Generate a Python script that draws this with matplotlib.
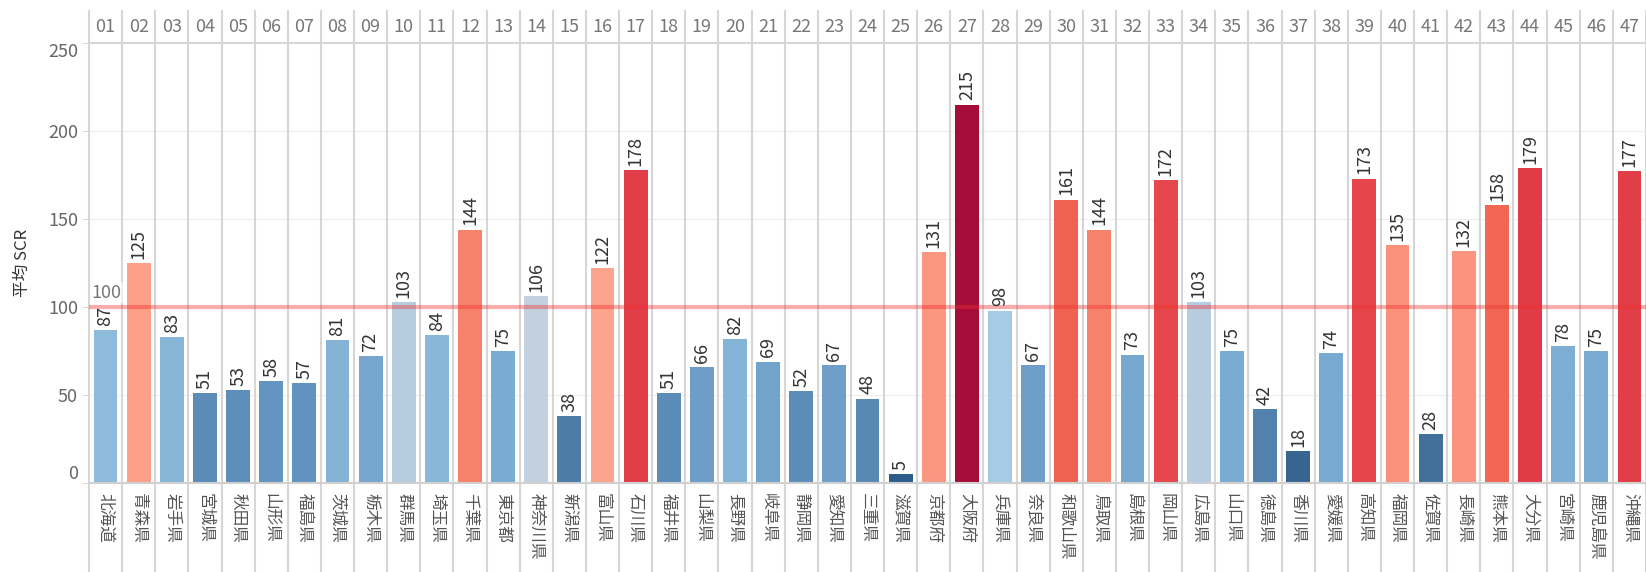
import matplotlib
matplotlib.use("Agg")
import matplotlib.pyplot as plt
from matplotlib.colors import LinearSegmentedColormap, Normalize
from matplotlib.transforms import blended_transform_factory
import numpy as np

plt.rcParams['font.family'] = ['Noto Sans CJK JP', 'DejaVu Sans']

codes = [f"{i:02d}" for i in range(1, 48)]
prefs = ["北海道", "青森県", "岩手県", "宮城県", "秋田県", "山形県", "福島県", "茨城県",
         "栃木県", "群馬県", "埼玉県", "千葉県", "東京都", "神奈川県", "新潟県", "富山県",
         "石川県", "福井県", "山梨県", "長野県", "岐阜県", "静岡県", "愛知県", "三重県",
         "滋賀県", "京都府", "大阪府", "兵庫県", "奈良県", "和歌山県", "鳥取県", "島根県",
         "岡山県", "広島県", "山口県", "徳島県", "香川県", "愛媛県", "高知県", "福岡県",
         "佐賀県", "長崎県", "熊本県", "大分県", "宮崎県", "鹿児島県", "沖縄県"]
scr = [87, 125, 83, 51, 53, 58, 57, 81, 72, 103, 84, 144, 75, 106, 38, 122, 178,
       51, 66, 82, 69, 52, 67, 48, 5, 131, 215, 98, 67, 161, 144, 73, 172, 103,
       75, 42, 18, 74, 173, 135, 28, 132, 158, 179, 78, 75, 177]
ref_value = 100

# diverging palette, light centre just above the reference
vmax = 215
anchors = [(0, "#2b5a88"), (20, "#3a6593"), (50, "#5a8bb7"), (60, "#6696c2"),
           (75, "#7aabd2"), (86, "#8cb9da"), (98, "#a6cbe4"), (103, "#b6cde0"),
           (108, "#c8d3dc"), (114, "#fdb6a3"), (124, "#fda08a"), (140, "#f98a73"),
           (160, "#f06452"), (175, "#e3404a"), (182, "#df3944"), (215, "#a50d38")]
cmap = LinearSegmentedColormap.from_list("rb", [(v / vmax, c) for v, c in anchors])
norm = Normalize(0, vmax)

W, H = 1646, 572
fig = plt.figure(figsize=(W / 100, H / 100), dpi=100)
left, right, top, bottom = 89, 1646, 43, 483
ax = fig.add_axes([left / W, 1 - bottom / H, (right - left) / W, (bottom - top) / H])
ax_h = bottom - top

x = np.arange(len(scr))
ax.bar(x, scr, width=0.72, color=[cmap(norm(v)) for v in scr], zorder=2)
ax.set_xlim(-0.5, len(scr) - 0.5)
ax.set_ylim(0, 250)

ax.set_yticks([0, 50, 100, 150, 200, 250])
ax.set_yticklabels(["0", "50", "100", "150", "200", "250"])
ax.tick_params(axis="y", length=5, color="#dddddd", labelcolor="#666666",
               labelsize=13, pad=3)
ylabels = ax.get_yticklabels()
ylabels[0].set_va("bottom")
ylabels[-1].set_va("top")
ax.set_xticks([])
ax.set_ylabel("平均 SCR", fontsize=12, color="#333333", labelpad=12)

for s in ["top", "right", "left"]:
    ax.spines[s].set_visible(False)
ax.spines["bottom"].set_color("#d0d0d0")
ax.spines["bottom"].set_linewidth(1.5)

for g in [50, 150, 200]:
    ax.axhline(g, color="#f0f0f0", lw=1, zorder=0)
ax.axhline(250, color="#d6d6d6", lw=1.5, zorder=1, clip_on=False)

trans = blended_transform_factory(ax.transData, ax.transAxes)
ax.vlines(np.arange(len(scr) + 1) - 0.5, -(H - bottom) / ax_h, (bottom - 10) / ax_h,
          transform=trans, color="#d6d6d6", lw=1.5, clip_on=False, zorder=1)

ax.axhline(ref_value, color="#f03030", alpha=0.4, lw=3, zorder=3)
ax.text(-0.42, ref_value + 3, str(ref_value), color="#777777", fontsize=13,
        va="bottom", ha="left", zorder=4,
        bbox=dict(facecolor="white", edgecolor="none", alpha=0.6, pad=1))

for i, (c, name, v) in enumerate(zip(codes, prefs, scr)):
    ax.text(i, 1 + 16 / ax_h, c, transform=trans, ha="center", va="center",
            fontsize=13, color="#777777")
    ax.text(i, -10 / ax_h, name, transform=trans, ha="center", va="top",
            rotation=-90, fontsize=12, color="#555555", linespacing=1.0)
    ax.annotate(str(v), (i, v), xytext=(0, 3), textcoords="offset points",
                ha="center", va="bottom", rotation=90, fontsize=13, color="#333333",
                zorder=4)

fig.savefig("out.png", dpi=100)
